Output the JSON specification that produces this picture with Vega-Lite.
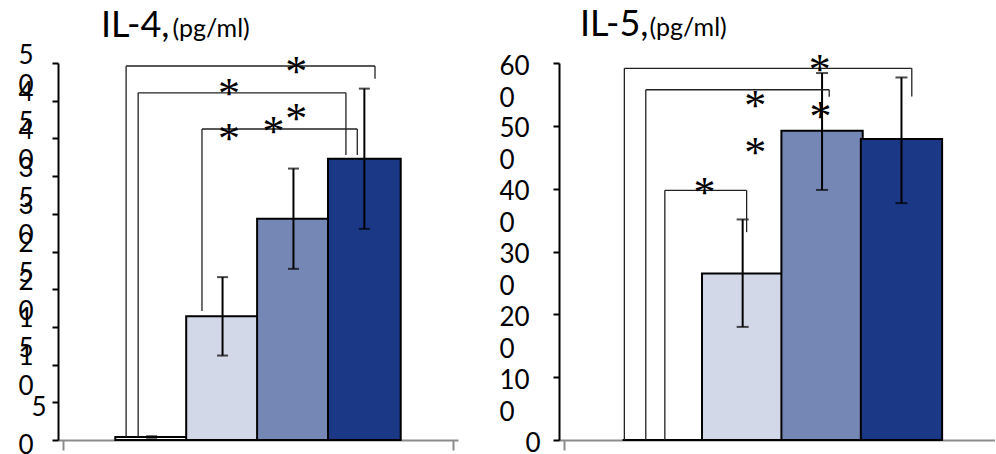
{
  "$schema": "https://vega.github.io/schema/vega-lite/v6.json",
  "padding": {"left": 0, "top": 7, "right": 0, "bottom": 0},
  "config": {"view": {"stroke": null}, "font": "Lato"},
  "datasets": {
    "il4_bars": [
      {"group": 1, "mean": 0.4, "lo": 0.3, "hi": 0.5},
      {"group": 2, "mean": 16.4, "lo": 11.2, "hi": 21.6},
      {"group": 3, "mean": 29.35, "lo": 22.7, "hi": 36.0},
      {"group": 4, "mean": 37.3, "lo": 28.0, "hi": 46.6}
    ],
    "il4_brackets": [
      {"from": 0.64, "to": 4.15, "top": 49.6, "fromBase": 0.4, "toBase": 47.9},
      {"from": 0.81, "to": 3.74, "top": 46.05, "fromBase": 0.4, "toBase": 37.8},
      {"from": 1.71, "to": 3.9, "top": 41.25, "fromBase": 17.1, "toBase": 37.8}
    ],
    "il4_stars": [
      {"x": 3.04, "y": 49.6},
      {"x": 2.09, "y": 46.7},
      {"x": 2.09, "y": 40.7},
      {"x": 2.72, "y": 41.6},
      {"x": 3.04, "y": 43.4}
    ],
    "il5_bars": [
      {"group": 1, "mean": 0, "lo": null, "hi": null},
      {"group": 2, "mean": 265, "lo": 180, "hi": 351},
      {"group": 3, "mean": 492, "lo": 398, "hi": 584},
      {"group": 4, "mean": 479, "lo": 377, "hi": 577}
    ],
    "il5_brackets": [
      {"from": 0.51, "to": 4.13, "top": 591.5, "fromBase": 0, "toBase": 546.8},
      {"from": 0.78, "to": 3.09, "top": 557.4, "fromBase": 0, "toBase": 546.2},
      {"from": 1.02, "to": 2.05, "top": 397.3, "fromBase": 0, "toBase": 330.8}
    ],
    "il5_stars": [
      {"x": 2.97, "y": 598},
      {"x": 2.16, "y": 541},
      {"x": 2.98, "y": 523},
      {"x": 2.16, "y": 466},
      {"x": 1.52, "y": 402}
    ]
  },
  "spacing": 41,
  "hconcat": [
    {
      "width": 400,
      "height": 377,
      "title": {"text": "IL-4,", "anchor": "start", "dx": 101, "fontSize": 36, "font": "Lato", "fontWeight": "normal", "color": "black", "baseline": "alphabetic", "offset": -57},
      "layer": [
        {
          "data": {"name": "il4_bars"},
          "mark": {"type": "bar", "width": 72.7, "stroke": "black", "strokeWidth": 2},
          "encoding": {
            "x": {"field": "group", "type": "quantitative", "scale": {"domain": [-0.25, 5.25], "nice": false, "zero": false},
              "axis": {"values": [-0.25, 5.25], "title": null, "labels": false, "grid": false, "domainColor": "#8c8c8c", "domainWidth": 2, "tickColor": "#8c8c8c", "tickWidth": 2, "tickSize": 10}},
            "y": {"field": "mean", "type": "quantitative", "scale": {"domain": [0, 50], "nice": false},
              "axis": {
                "values": [0, 5, 10, 15, 20, 25, 30, 35, 40, 45, 50],
                "grid": false, "domainColor": "black", "domainWidth": 2, "tickColor": "black", "tickWidth": 2, "tickSize": 6,
                "labelFont": "Lato", "labelFontSize": 26, "labelColor": "black", "labelAlign": "left",
                "labelBaseline": {"condition": {"test": "datum.value <= 5", "value": "top"}, "value": "middle"},
                "labelLineHeight": 30, "labelOffset": -8, "labelOverlap": false, "labelPadding": 34,
                "labelExpr": "datum.value === 5 ? '\u200b\u2002' + datum.label : length(datum.label) > 1 ? [slice(datum.label, 0, -1), slice(datum.label, -1)] : datum.label",
                "minExtent": 58, "maxExtent": 58,
                "title": "(pg/ml)", "titleAngle": 0, "titleX": 114, "titleY": -27, "titleAlign": "left", "titleBaseline": "alphabetic",
                "titleFont": "Lato", "titleFontSize": 25, "titleFontWeight": "normal", "titleColor": "black"
              }},
            "fill": {"field": "group", "type": "nominal", "scale": {"domain": [1, 2, 3, 4], "range": ["#ffffff", "#d3d8e8", "#7587b5", "#1b3886"]}, "legend": null}
          }
        },
        {
          "data": {"name": "il4_bars"},
          "mark": {"type": "rule", "color": "black", "strokeWidth": 2},
          "encoding": {
            "x": {"field": "group", "type": "quantitative", "scale": {"domain": [-0.25, 5.25], "nice": false, "zero": false}, "axis": {"values": [-0.25, 5.25]}},
            "y": {"field": "lo", "type": "quantitative", "scale": {"domain": [0, 50], "nice": false}, "axis": {"values": [0, 5, 10, 15, 20, 25, 30, 35, 40, 45, 50]}},
            "y2": {"field": "hi"}
          }
        },
        {
          "data": {"name": "il4_bars"},
          "mark": {"type": "tick", "orient": "horizontal", "color": "black", "size": 11, "thickness": 2},
          "encoding": {
            "x": {"field": "group", "type": "quantitative", "scale": {"domain": [-0.25, 5.25], "nice": false, "zero": false}, "axis": {"values": [-0.25, 5.25]}},
            "y": {"field": "lo", "type": "quantitative", "scale": {"domain": [0, 50], "nice": false}, "axis": {"values": [0, 5, 10, 15, 20, 25, 30, 35, 40, 45, 50]}}
          }
        },
        {
          "data": {"name": "il4_bars"},
          "mark": {"type": "tick", "orient": "horizontal", "color": "black", "size": 11, "thickness": 2},
          "encoding": {
            "x": {"field": "group", "type": "quantitative", "scale": {"domain": [-0.25, 5.25], "nice": false, "zero": false}, "axis": {"values": [-0.25, 5.25]}},
            "y": {"field": "hi", "type": "quantitative", "scale": {"domain": [0, 50], "nice": false}, "axis": {"values": [0, 5, 10, 15, 20, 25, 30, 35, 40, 45, 50]}}
          }
        },
        {
          "data": {"name": "il4_brackets"},
          "mark": {"type": "rule", "color": "#222222", "strokeWidth": 1.3},
          "encoding": {
            "x": {"field": "from", "type": "quantitative", "scale": {"domain": [-0.25, 5.25], "nice": false, "zero": false}, "axis": {"values": [-0.25, 5.25]}},
            "x2": {"field": "to"},
            "y": {"field": "top", "type": "quantitative", "scale": {"domain": [0, 50], "nice": false}, "axis": {"values": [0, 5, 10, 15, 20, 25, 30, 35, 40, 45, 50]}}
          }
        },
        {
          "data": {"name": "il4_brackets"},
          "mark": {"type": "rule", "color": "#222222", "strokeWidth": 1.3},
          "encoding": {
            "x": {"field": "from", "type": "quantitative", "scale": {"domain": [-0.25, 5.25], "nice": false, "zero": false}, "axis": {"values": [-0.25, 5.25]}},
            "y": {"field": "fromBase", "type": "quantitative", "scale": {"domain": [0, 50], "nice": false}, "axis": {"values": [0, 5, 10, 15, 20, 25, 30, 35, 40, 45, 50]}},
            "y2": {"field": "top"}
          }
        },
        {
          "data": {"name": "il4_brackets"},
          "mark": {"type": "rule", "color": "#222222", "strokeWidth": 1.3},
          "encoding": {
            "x": {"field": "to", "type": "quantitative", "scale": {"domain": [-0.25, 5.25], "nice": false, "zero": false}, "axis": {"values": [-0.25, 5.25]}},
            "y": {"field": "toBase", "type": "quantitative", "scale": {"domain": [0, 50], "nice": false}, "axis": {"values": [0, 5, 10, 15, 20, 25, 30, 35, 40, 45, 50]}},
            "y2": {"field": "top"}
          }
        },
        {
          "data": {"name": "il4_stars"},
          "mark": {"type": "text", "text": "*", "font": "Liberation Serif", "fontSize": 44, "color": "black", "baseline": "alphabetic", "dy": 20},
          "encoding": {
            "x": {"field": "x", "type": "quantitative", "scale": {"domain": [-0.25, 5.25], "nice": false, "zero": false}, "axis": {"values": [-0.25, 5.25]}},
            "y": {"field": "y", "type": "quantitative", "scale": {"domain": [0, 50], "nice": false}, "axis": {"values": [0, 5, 10, 15, 20, 25, 30, 35, 40, 45, 50]}}
          }
        }
      ]
    },
    {
      "width": 436,
      "height": 377,
      "title": {"text": "IL-5,", "anchor": "start", "dx": 81, "fontSize": 36, "font": "Lato", "fontWeight": "normal", "color": "black", "baseline": "alphabetic", "offset": -57},
      "layer": [
        {
          "data": {"name": "il5_bars"},
          "mark": {"type": "bar", "width": 81.3, "stroke": "black", "strokeWidth": 2},
          "encoding": {
            "x": {"field": "group", "type": "quantitative", "scale": {"domain": [-0.25, 5.115], "nice": false, "zero": false},
              "axis": {"values": [-0.25], "title": null, "labels": false, "grid": false, "domainColor": "#8c8c8c", "domainWidth": 2, "tickColor": "#8c8c8c", "tickWidth": 2, "tickSize": 10}},
            "y": {"field": "mean", "type": "quantitative", "scale": {"domain": [0, 600], "nice": false},
              "axis": {
                "values": [0, 100, 200, 300, 400, 500, 600],
                "grid": false, "domainColor": "black", "domainWidth": 2, "tickColor": "black", "tickWidth": 2, "tickSize": 6,
                "labelFont": "Lato", "labelFontSize": 26, "labelColor": "black", "labelAlign": "left", "labelBaseline": "middle",
                "labelLineHeight": 32, "labelOffset": 3, "labelOverlap": false, "labelPadding": 54,
                "labelExpr": "datum.value === 0 ? '\u200b\u2002\u2002' + datum.label : length(datum.label) > 1 ? [slice(datum.label, 0, -1), slice(datum.label, -1)] : datum.label",
                "minExtent": 60, "maxExtent": 60,
                "title": "(pg/ml)", "titleAngle": 0, "titleX": 90, "titleY": -28, "titleAlign": "left", "titleBaseline": "alphabetic",
                "titleFont": "Lato", "titleFontSize": 25, "titleFontWeight": "normal", "titleColor": "black"
              }},
            "fill": {"field": "group", "type": "nominal", "scale": {"domain": [1, 2, 3, 4], "range": ["#ffffff", "#d3d8e8", "#7587b5", "#1b3886"]}, "legend": null}
          }
        },
        {
          "data": {"name": "il5_bars"},
          "mark": {"type": "rule", "color": "black", "strokeWidth": 2},
          "encoding": {
            "x": {"field": "group", "type": "quantitative", "scale": {"domain": [-0.25, 5.115], "nice": false, "zero": false}, "axis": {"values": [-0.25]}},
            "y": {"field": "lo", "type": "quantitative", "scale": {"domain": [0, 600], "nice": false}, "axis": {"values": [0, 100, 200, 300, 400, 500, 600]}},
            "y2": {"field": "hi"}
          }
        },
        {
          "data": {"name": "il5_bars"},
          "mark": {"type": "tick", "orient": "horizontal", "color": "black", "size": 12, "thickness": 2},
          "encoding": {
            "x": {"field": "group", "type": "quantitative", "scale": {"domain": [-0.25, 5.115], "nice": false, "zero": false}, "axis": {"values": [-0.25]}},
            "y": {"field": "lo", "type": "quantitative", "scale": {"domain": [0, 600], "nice": false}, "axis": {"values": [0, 100, 200, 300, 400, 500, 600]}}
          }
        },
        {
          "data": {"name": "il5_bars"},
          "mark": {"type": "tick", "orient": "horizontal", "color": "black", "size": 12, "thickness": 2},
          "encoding": {
            "x": {"field": "group", "type": "quantitative", "scale": {"domain": [-0.25, 5.115], "nice": false, "zero": false}, "axis": {"values": [-0.25]}},
            "y": {"field": "hi", "type": "quantitative", "scale": {"domain": [0, 600], "nice": false}, "axis": {"values": [0, 100, 200, 300, 400, 500, 600]}}
          }
        },
        {
          "data": {"name": "il5_brackets"},
          "mark": {"type": "rule", "color": "#222222", "strokeWidth": 1.3},
          "encoding": {
            "x": {"field": "from", "type": "quantitative", "scale": {"domain": [-0.25, 5.115], "nice": false, "zero": false}, "axis": {"values": [-0.25]}},
            "x2": {"field": "to"},
            "y": {"field": "top", "type": "quantitative", "scale": {"domain": [0, 600], "nice": false}, "axis": {"values": [0, 100, 200, 300, 400, 500, 600]}}
          }
        },
        {
          "data": {"name": "il5_brackets"},
          "mark": {"type": "rule", "color": "#222222", "strokeWidth": 1.3},
          "encoding": {
            "x": {"field": "from", "type": "quantitative", "scale": {"domain": [-0.25, 5.115], "nice": false, "zero": false}, "axis": {"values": [-0.25]}},
            "y": {"field": "fromBase", "type": "quantitative", "scale": {"domain": [0, 600], "nice": false}, "axis": {"values": [0, 100, 200, 300, 400, 500, 600]}},
            "y2": {"field": "top"}
          }
        },
        {
          "data": {"name": "il5_brackets"},
          "mark": {"type": "rule", "color": "#222222", "strokeWidth": 1.3},
          "encoding": {
            "x": {"field": "to", "type": "quantitative", "scale": {"domain": [-0.25, 5.115], "nice": false, "zero": false}, "axis": {"values": [-0.25]}},
            "y": {"field": "toBase", "type": "quantitative", "scale": {"domain": [0, 600], "nice": false}, "axis": {"values": [0, 100, 200, 300, 400, 500, 600]}},
            "y2": {"field": "top"}
          }
        },
        {
          "data": {"name": "il5_stars"},
          "mark": {"type": "text", "text": "*", "font": "Liberation Serif", "fontSize": 44, "color": "black", "baseline": "alphabetic", "dy": 20},
          "encoding": {
            "x": {"field": "x", "type": "quantitative", "scale": {"domain": [-0.25, 5.115], "nice": false, "zero": false}, "axis": {"values": [-0.25]}},
            "y": {"field": "y", "type": "quantitative", "scale": {"domain": [0, 600], "nice": false}, "axis": {"values": [0, 100, 200, 300, 400, 500, 600]}}
          }
        }
      ]
    }
  ]
}
